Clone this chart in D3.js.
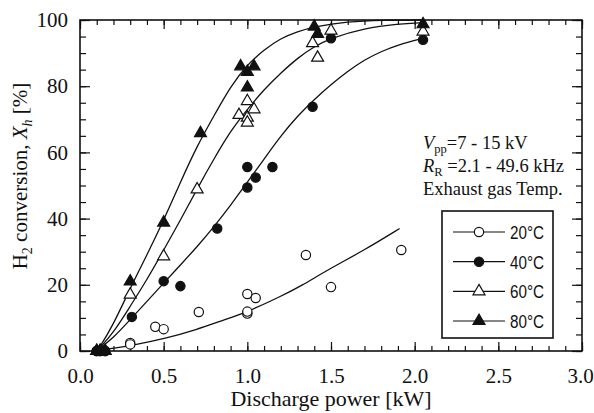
<!DOCTYPE html>
<html>
<head>
<meta charset="utf-8">
<script src="https://cdn.jsdelivr.net/npm/d3@7"></script>
<style>
    body { margin: 0; background: #fff; }
    svg { display: block; }
    .serif { font-family: "Liberation Serif", "Times New Roman", serif; fill: #111; }
    .axis path { display: none; }
    .axis line { stroke: #111; stroke-width: 1.2; }
    .axis text { font-family: "Liberation Serif", "Times New Roman", serif; font-size: 21px; fill: #111; }
    .legend-text { font-family: "Liberation Sans Narrow", "Liberation Sans", Arial, sans-serif; font-size: 18px; fill: #111; }
</style>
</head>
<body>
<script>
(function() {
    // data: measured points (discharge power kW, conversion %)
    var series = ["20\u00b0C", "40\u00b0C", "60\u00b0C", "80\u00b0C"];
    var points20 = [[0.1, 0], [0.12, 0], [0.15, 0], [0.3, 2.4], [0.3, 2.0], [0.45, 7.3], [0.5, 6.6], [0.71, 11.8],
        [1.0, 17.2], [1.0, 11.3], [1.0, 11.9], [1.05, 16], [1.35, 29], [1.5, 19.3], [1.92, 30.5]];
    var points40 = [[0.1, 0], [0.12, 0], [0.15, 0], [0.31, 10.3], [0.5, 21.1], [0.6, 19.6], [0.82, 37],
        [1.0, 55.6], [1.0, 49.4], [1.05, 52.4], [1.15, 55.6], [1.39, 73.8], [1.5, 94.5], [2.05, 94]];
    var points60 = [[0.1, 0], [0.12, 0], [0.15, 0], [0.3, 17], [0.5, 28.6], [0.7, 48.8], [0.95, 71.3],
        [1.0, 75.5], [1.0, 70.5], [1.0, 69], [1.04, 73], [1.39, 93], [1.42, 88.6], [1.5, 96.8], [2.05, 96.5]];
    var points80 = [[0.1, 0], [0.12, 0], [0.15, 0], [0.3, 21], [0.5, 38.8], [0.72, 65.8], [0.96, 86],
        [1.0, 84.3], [1.04, 86], [1.0, 79.6], [1.4, 98], [1.42, 95.8], [2.05, 98.7]];

    // fitted curves
    var curve20 = [[0.11, 0.3], [0.2, 0.8], [0.32, 1.8], [0.5, 3.6], [0.7, 6.5], [0.85, 9.2], [1.0, 11.8],
        [1.2, 16.5], [1.32, 19.6], [1.48, 24.5], [1.7, 30.5], [1.91, 37]];
    var curve40 = [[0.11, 0.5], [0.2, 4], [0.3, 9.5], [0.4, 15], [0.5, 20.5], [0.6, 26], [0.7, 31.5], [0.8, 37.5],
        [0.9, 44], [1.0, 51], [1.1, 58], [1.2, 65], [1.3, 71], [1.4, 76], [1.5, 80.5], [1.6, 84.5], [1.7, 88],
        [1.8, 90.5], [1.9, 92.5], [2.05, 94.5]];
    var curve60 = [[0.11, 0.5], [0.2, 5.5], [0.3, 13.5], [0.4, 21.5], [0.5, 30.5], [0.6, 39.5], [0.7, 49],
        [0.8, 58], [0.9, 66.5], [1.0, 73], [1.1, 79], [1.2, 84], [1.3, 88.5], [1.4, 92], [1.5, 94.5],
        [1.7, 97.5], [1.9, 98.8], [2.05, 99.2]];
    var curve80 = [[0.11, 0.5], [0.2, 8], [0.3, 19], [0.4, 29], [0.5, 39.5], [0.6, 51], [0.7, 62], [0.8, 71],
        [0.9, 80], [1.0, 86.5], [1.1, 91], [1.2, 94.5], [1.3, 96.5], [1.4, 98], [1.6, 99.5], [1.8, 100], [2.05, 100]];

    // ticks
    var xMajor = [0, 0.5, 1.0, 1.5, 2.0, 2.5, 3.0];
    var yMajor = [0, 20, 40, 60, 80, 100];

    // layout
    var width = 594, height = 413;
    var plot = { left: 80, right: 582, top: 20, bottom: 351 };

    var svg = d3.select("body").append("svg")
        .attr("width", width)
        .attr("height", height);

    var x = d3.scaleLinear().domain([0, 3]).range([plot.left, plot.right]);
    var y = d3.scaleLinear().domain([0, 100]).range([plot.bottom, plot.top]);

    var xMinor = d3.range(0, 31).map(function(i) { return i / 10; });
    var yMinor = d3.range(0, 21).map(function(i) { return i * 5; });

    // axes, ticks inward on all four sides
    function addAxis(axis, tx, ty, labels) {
        var g = svg.append("g")
            .attr("class", "axis")
            .attr("transform", "translate(" + tx + "," + ty + ")")
            .call(axis);
        if (!labels) g.selectAll("text").remove();
        return g;
    }
    addAxis(d3.axisBottom(x).tickValues(xMinor).tickSize(-5).tickFormat(""), 0, plot.bottom, false);
    var xAxis = addAxis(d3.axisBottom(x).tickValues(xMajor).tickSize(-9).tickPadding(17).tickFormat(d3.format(".1f")), 0, plot.bottom, true);
    // last label sits against the page edge
    xAxis.selectAll("text").filter(function(d) { return d === 3; }).attr("dx", -2);
    addAxis(d3.axisTop(x).tickValues(xMinor).tickSize(-5), 0, plot.top, false);
    addAxis(d3.axisTop(x).tickValues(xMajor).tickSize(-9), 0, plot.top, false);
    addAxis(d3.axisLeft(y).tickValues(yMinor).tickSize(-6).tickFormat(""), plot.left, 0, false);
    addAxis(d3.axisLeft(y).tickValues(yMajor).tickSize(-10).tickPadding(12).tickFormat(d3.format("d")), plot.left, 0, true);
    addAxis(d3.axisRight(y).tickValues(yMinor).tickSize(-6), plot.right, 0, false);
    addAxis(d3.axisRight(y).tickValues(yMajor).tickSize(-10), plot.right, 0, false);

    // frame
    svg.append("rect")
        .attr("x", plot.left)
        .attr("y", plot.top)
        .attr("width", plot.right - plot.left)
        .attr("height", plot.bottom - plot.top)
        .attr("fill", "none")
        .attr("stroke", "#111")
        .attr("stroke-width", 1.6);

    // fitted curves
    var line = d3.line()
        .x(function(d) { return x(d[0]); })
        .y(function(d) { return y(d[1]); })
        .curve(d3.curveBasis);

    [curve20, curve40, curve60, curve80].forEach(function(c) {
        svg.append("path")
            .attr("d", line(c))
            .attr("fill", "none")
            .attr("stroke", "#111")
            .attr("stroke-width", 1.3);
    });

    // markers
    var circle = d3.symbol().type(d3.symbolCircle).size(68);
    var triangle = d3.symbol().type(d3.symbolTriangle).size(62);
    var styles = [
        { shape: circle, fill: "#fff" },
        { shape: circle, fill: "#111" },
        { shape: triangle, fill: "#fff" },
        { shape: triangle, fill: "#111" }
    ];

    function drawMarkers(g, pts, style) {
        g.selectAll("path")
            .data(pts)
            .enter().append("path")
            .attr("d", style.shape())
            .attr("transform", function(d) { return "translate(" + x(d[0]) + "," + y(d[1]) + ")"; })
            .attr("fill", style.fill)
            .attr("stroke", "#111")
            .attr("stroke-width", 1.2);
    }

    [points20, points40, points60, points80].forEach(function(pts, i) {
        drawMarkers(svg.append("g"), pts, styles[i]);
    });

    // axis titles
    svg.append("text")
        .attr("class", "serif")
        .attr("x", (plot.left + plot.right) / 2)
        .attr("y", 406)
        .attr("text-anchor", "middle")
        .attr("font-size", 22)
        .text("Discharge power [kW]");

    var yTitle = svg.append("text")
        .attr("class", "serif")
        .attr("transform", "translate(27," + 176 + ") rotate(-90)")
        .attr("text-anchor", "middle")
        .attr("font-size", 21);
    yTitle.append("tspan").text("H");
    yTitle.append("tspan").attr("font-size", 14).attr("dy", 5).text("2");
    yTitle.append("tspan").attr("dy", -5).text(" conversion, ");
    yTitle.append("tspan").attr("font-style", "italic").text("X");
    yTitle.append("tspan").attr("font-style", "italic").attr("font-size", 14).attr("dy", 5).text("h");
    yTitle.append("tspan").attr("dy", -5).text(" [%]");

    // conditions text
    var note = svg.append("g").attr("class", "serif").attr("font-size", 18.5);
    var t1 = note.append("text").attr("x", 423).attr("y", 149);
    t1.append("tspan").attr("font-style", "italic").text("V");
    t1.append("tspan").attr("font-size", 12.5).attr("dy", 4).text("pp");
    t1.append("tspan").attr("dy", -4).text("=7 - 15 kV");
    var t2 = note.append("text").attr("x", 423).attr("y", 172);
    t2.append("tspan").attr("font-style", "italic").text("R");
    t2.append("tspan").attr("font-size", 12.5).attr("dy", 4).text("R");
    t2.append("tspan").attr("dy", -4).text(" =2.1 - 49.6 kHz");
    note.append("text").attr("x", 423).attr("y", 195).text("Exhaust gas Temp.");

    // legend
    var legend = svg.append("g");
    legend.append("rect")
        .attr("x", 442).attr("y", 211)
        .attr("width", 111).attr("height", 127)
        .attr("fill", "#fff")
        .attr("stroke", "#111")
        .attr("stroke-width", 1.6);

    var ly = d3.scalePoint().domain(series).range([232, 321]);
    series.forEach(function(s, i) {
        var cy = ly(s);
        legend.append("line")
            .attr("x1", 453).attr("x2", 505)
            .attr("y1", cy).attr("y2", cy)
            .attr("stroke", "#111")
            .attr("stroke-width", 1.2);
        legend.append("path")
            .attr("d", styles[i].shape())
            .attr("transform", "translate(479," + cy + ")")
            .attr("fill", styles[i].fill)
            .attr("stroke", "#111")
            .attr("stroke-width", 1.2);
        legend.append("text")
            .attr("class", "legend-text")
            .attr("x", 510)
            .attr("y", cy + 7)
            .attr("textLength", 34)
            .attr("lengthAdjust", "spacingAndGlyphs")
            .text(s);
    });
})();
</script>
</body>
</html>
